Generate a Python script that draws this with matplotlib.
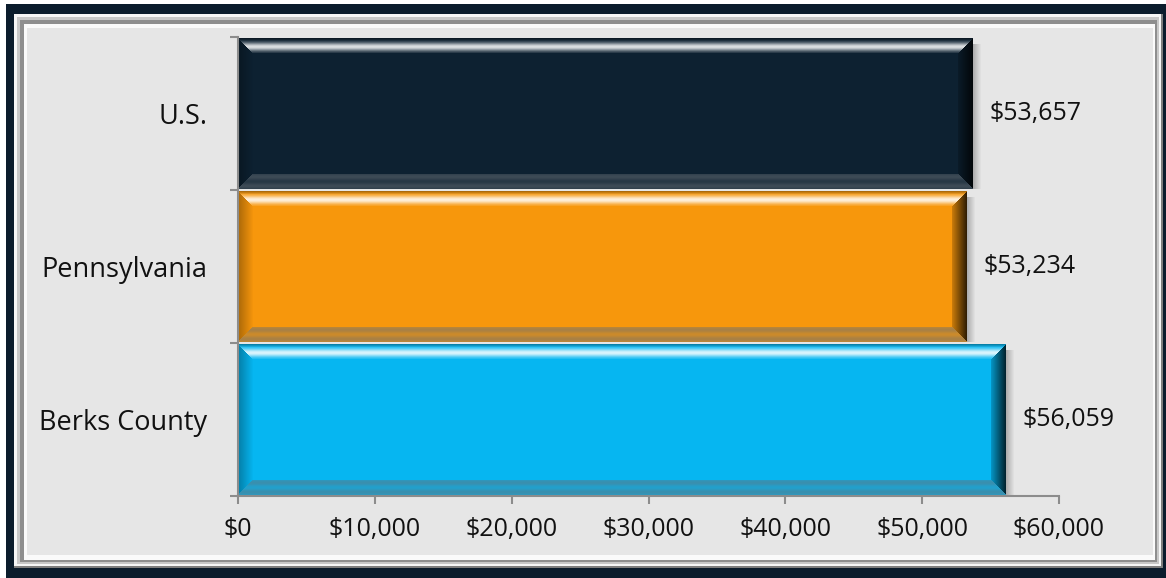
import numpy as np
import matplotlib
matplotlib.use("Agg")
from matplotlib import pyplot as plt
from matplotlib.patches import Rectangle
from matplotlib.ticker import FuncFormatter

categories = ["Berks County", "Pennsylvania", "U.S."]
values = [56059, 53234, 53657]
bar_colors = ["#06b6f1", "#f7970c", "#0d2131"]
x_ticks = [0, 10000, 20000, 30000, 40000, 50000, 60000]

W, H = 1166, 578
plt.rcParams['font.family'] = ['Open Sans', 'DejaVu Sans']
FS = 18


def to_rgb(c):
    return np.array(matplotlib.colors.to_rgb(c))


def bevel_image(w, h, base, b=15):
    # fake the office-style bevel with a small rgb array
    base = to_rgb(base)
    yy, xx = np.mgrid[0:h, 0:w]
    dt, db, dl, dr = yy, h - 1 - yy, xx, w - 1 - xx
    d = np.stack([dt, db, dl, dr])
    side = np.argmin(d, axis=0)
    dmin = np.min(d, axis=0)
    t = np.clip(dmin / b, 0, 1)
    img = np.tile(base, (h, w, 1)).astype(float)
    white = np.ones(3)
    gray = np.array([0.40, 0.43, 0.46])
    inb = dmin < b
    # top: highlight stripe
    m = inb & (side == 0)
    amt = 0.85 * np.exp(-((t - 0.55) / 0.28) ** 2)
    img[m] = img[m] * (1 - amt[m, None]) + white * amt[m, None]
    dark = 0.3 * (1 - t / 0.2) * (t < 0.2)
    img[m] = img[m] * (1 - dark[m, None])
    # bottom: grayish
    m = inb & (side == 1)
    amt = 0.42 + 0.12 * np.sin(t * 10)
    img[m] = img[m] * (1 - amt[m, None]) + gray * amt[m, None]
    # right: darker
    m = inb & (side == 3)
    amt = 0.65 * (1 - t) + 0.15
    img[m] = img[m] * (1 - amt[m, None])
    # left: slightly darker at outer edge
    m = inb & (side == 2)
    amt = 0.3 * (1 - t)
    img[m] = img[m] * (1 - amt[m, None])
    return np.clip(img, 0, 1)


fig = plt.figure(figsize=(W / 100, H / 100), dpi=100)
fig.patch.set_facecolor("white")

# frame drawn in pixel space
bg = fig.add_axes([0, 0, 1, 1], zorder=-1)
bg.set_xlim(0, W)
bg.set_ylim(H, 0)
bg.axis("off")
frame = [
    ((6, 4, W, H), "#0b1c2c"),
    ((14, 14, 1163, 568), "#7e7e7e"),
    ((14, 14, 1161, 566), "#f6f6f6"),
    ((17, 17, 1159, 564), "#c8c8c8"),
    ((20, 20, 1157, 562), "#8e8e8e"),
    ((24, 24, 1155, 560), "#fafafa"),
    ((27, 28, 1153, 555), "#e6e6e6"),
]
for (x0, y0, x1, y1), c in frame:
    bg.add_patch(Rectangle((x0, y0), x1 - x0, y1 - y0, facecolor=c, edgecolor="none"))

ax = fig.add_axes([238 / W, 1 - 496 / H, (1059 - 238) / W, (496 - 37) / H])
ax.set_facecolor("none")
ax.set_xlim(0, 60000)
ax.set_ylim(-0.5, 2.5)

bar_h = 0.985
y = np.arange(len(categories))
ax.barh(y, values, height=bar_h, color=bar_colors, edgecolor="none", zorder=2)

# data units per pixel
px_x = 60000 / (1059 - 238)
px_y = 3 / (496 - 37)

for i, (v, c) in enumerate(zip(values, bar_colors)):
    w_px = int(round(v / px_x))
    h_px = int(round(bar_h / px_y))
    img = bevel_image(w_px, h_px, c)
    ax.imshow(img, extent=(0, v, i - bar_h / 2, i + bar_h / 2), aspect="auto",
              interpolation="none", zorder=3, origin="upper")
    # soft shadow on the right
    sh = np.zeros((1, 10, 4))
    sh[..., :3] = 0.35
    sh[0, :, 3] = np.linspace(0.45, 0.0, 10)
    ax.imshow(sh, extent=(v, v + 10 * px_x, i - bar_h / 2, i + bar_h / 2 - 6 * px_y),
              aspect="auto", interpolation="bilinear", zorder=1.5)
    ax.text(v + 17 * px_x, i, "${:,.0f}".format(v), va="center", ha="left",
            fontsize=FS, color="#111111", zorder=4)

ax.set_xlim(0, 60000)
ax.set_ylim(-0.5, 2.5)

for s in ["top", "right"]:
    ax.spines[s].set_visible(False)
for s in ["left", "bottom"]:
    ax.spines[s].set_color("#8c8c8c")
    ax.spines[s].set_linewidth(1.5)
    ax.spines[s].set_zorder(5)

ax.set_xticks(x_ticks)
ax.xaxis.set_major_formatter(FuncFormatter(lambda v, p: "${:,.0f}".format(v)))
ax.tick_params(axis="x", length=6, width=1.5, color="#8c8c8c", labelsize=FS,
               labelcolor="#111111", pad=9)

ax.set_yticks(np.arange(-0.5, len(categories), 1.0))
ax.set_yticklabels([])
ax.set_yticks(y, minor=True)
ax.set_yticklabels(categories, minor=True)
ax.tick_params(axis="y", which="major", length=6, width=1.5, color="#8c8c8c")
ax.tick_params(axis="y", which="minor", length=0, labelsize=19.5, labelcolor="#111111", pad=22)

fig.savefig("out.png", dpi=100)
